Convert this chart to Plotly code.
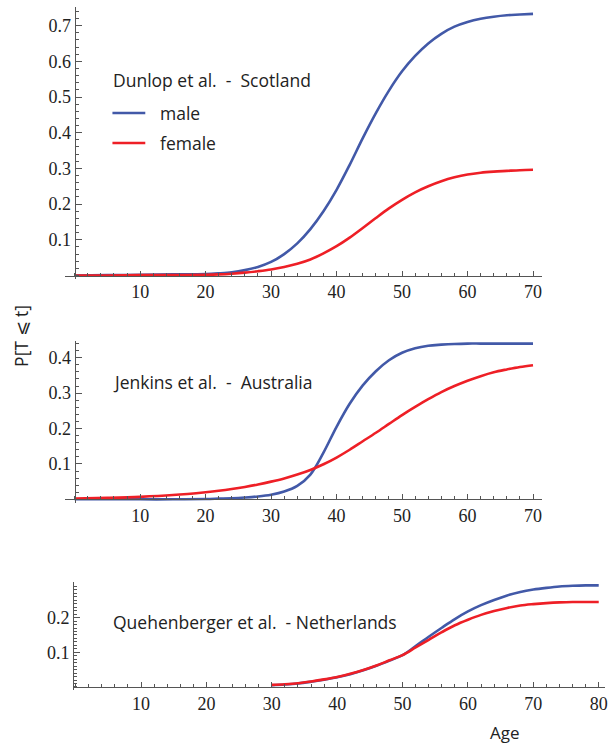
import plotly.graph_objects as go

# ---------------- data ----------------
ages_dunlop = [0, 5, 10, 15, 20, 22, 24, 26, 28, 30, 32, 34, 36, 38, 40, 42, 44, 46, 48, 50,
               52, 54, 56, 58, 60, 62, 64, 66, 68, 70]
male_dunlop = [0.000, 0.001, 0.002, 0.003, 0.004, 0.006, 0.009, 0.015, 0.024, 0.038, 0.060, 0.090,
               0.130, 0.180, 0.240, 0.310, 0.385, 0.455, 0.518, 0.572, 0.615, 0.650, 0.677, 0.697,
               0.710, 0.719, 0.725, 0.729, 0.731, 0.733]
female_dunlop = [0.000, 0.000, 0.001, 0.001, 0.002, 0.003, 0.005, 0.008, 0.012, 0.017, 0.024, 0.033,
                 0.045, 0.062, 0.082, 0.106, 0.133, 0.161, 0.188, 0.212, 0.233, 0.250, 0.264, 0.275,
                 0.283, 0.288, 0.291, 0.293, 0.295, 0.296]

ages_jenkins = [0, 5, 10, 15, 20, 22, 24, 26, 28, 30, 32, 34, 36, 38, 40, 42, 44, 46, 48, 50,
                52, 54, 56, 58, 60, 62, 64, 66, 68, 70]
male_jenkins = [0.000, 0.000, 0.000, 0.000, 0.001, 0.002, 0.003, 0.005, 0.008, 0.013, 0.022, 0.038,
                0.070, 0.132, 0.205, 0.270, 0.322, 0.362, 0.393, 0.414, 0.427, 0.434, 0.437, 0.439,
                0.440, 0.440, 0.440, 0.440, 0.440, 0.440]
female_jenkins = [0.002, 0.004, 0.007, 0.012, 0.020, 0.024, 0.029, 0.035, 0.042, 0.050, 0.059, 0.070,
                  0.083, 0.099, 0.118, 0.140, 0.164, 0.188, 0.213, 0.238, 0.261, 0.283, 0.303, 0.320,
                  0.335, 0.348, 0.359, 0.367, 0.374, 0.379]

ages_queh = [30, 32, 34, 36, 38, 40, 42, 44, 46, 48, 50, 52, 54, 56, 58, 60, 62, 64, 66, 68,
             70, 72, 74, 76, 78, 80]
male_queh = [0.005, 0.007, 0.010, 0.015, 0.021, 0.028, 0.037, 0.048, 0.061, 0.076, 0.092, 0.118,
             0.145, 0.171, 0.196, 0.218, 0.236, 0.251, 0.264, 0.274, 0.281, 0.286, 0.290, 0.292,
             0.293, 0.293]
female_queh = [0.006, 0.008, 0.011, 0.016, 0.022, 0.029, 0.038, 0.049, 0.062, 0.077, 0.092, 0.114,
               0.136, 0.158, 0.178, 0.194, 0.208, 0.219, 0.228, 0.235, 0.239, 0.242, 0.244, 0.245,
               0.245, 0.245]

x_ticks_70 = [10, 20, 30, 40, 50, 60, 70]
x_ticks_80 = [10, 20, 30, 40, 50, 60, 70, 80]
y_ticks_top = [0.1, 0.2, 0.3, 0.4, 0.5, 0.6, 0.7]
y_ticks_mid = [0.1, 0.2, 0.3, 0.4]
y_ticks_bot = [0.1, 0.2]

titles = ["Dunlop et al.  -  Scotland", "Jenkins et al.  -  Australia",
          "Quehenberger et al.  - Netherlands"]
series_names = ["male", "female"]

# ---------------- styling ----------------
W, H = 611, 747
BLUE = "#4259a8"
RED = "#ee1f26"
AX = "#555555"
TXT = "#222222"
SERIF = "Times New Roman"
SANS = "Open Sans"
FS = 17.5
TFS = 18


def px(x):
    return x / W


def py(y):
    return 1 - y / H


fig = go.Figure()

panels = [
    (ages_dunlop, male_dunlop, female_dunlop, "x", "y"),
    (ages_jenkins, male_jenkins, female_jenkins, "x2", "y2"),
    (ages_queh, male_queh, female_queh, "x3", "y3"),
]
for ages, m, f, xa, ya in panels:
    fig.add_trace(go.Scatter(x=ages, y=m, mode="lines", name=series_names[0], showlegend=False,
                             line=dict(color=BLUE, width=2.6, shape="spline"),
                             xaxis=xa, yaxis=ya))
    fig.add_trace(go.Scatter(x=ages, y=f, mode="lines", name=series_names[1], showlegend=False,
                             line=dict(color=RED, width=2.6, shape="spline"),
                             xaxis=xa, yaxis=ya))


def xcfg(dom, rng, ticks, ypix):
    return dict(domain=[px(dom[0]), px(dom[1])], range=rng, anchor="free", position=py(ypix),
                showline=True, linecolor=AX, linewidth=1, showgrid=False, zeroline=False,
                tickmode="array", tickvals=ticks, ticks="inside", ticklen=5, tickwidth=1,
                tickcolor=AX,
                minor=dict(tickmode="linear", tick0=0, dtick=2, ticks="inside", ticklen=3,
                           tickcolor=AX, tickwidth=1, showgrid=False),
                tickfont=dict(family=SERIF, size=TFS, color=TXT), fixedrange=True)


def ycfg(dom, rng, ticks, xpix, minor_dt):
    return dict(domain=[py(dom[1]), py(dom[0])], range=rng, anchor="free", position=px(xpix),
                showline=True, linecolor=AX, linewidth=1, showgrid=False, zeroline=False,
                tickmode="array", tickvals=ticks, ticks="inside", ticklen=6, tickwidth=1,
                tickcolor=AX,
                minor=dict(tickmode="linear", tick0=0, dtick=minor_dt, ticks="inside", ticklen=3,
                           tickcolor=AX, tickwidth=1, showgrid=False),
                tickfont=dict(family=SERIF, size=TFS, color=TXT), fixedrange=True)


fig.update_layout(
    width=W, height=H, margin=dict(l=0, r=0, t=0, b=0),
    paper_bgcolor="white", plot_bgcolor="white", showlegend=False,
    font=dict(family=SANS, color=TXT),
    xaxis=xcfg((65.8, 544.2), [-1.4, 71.3], x_ticks_70, 275.5),
    yaxis=ycfg((7.4, 278.7), [-0.009, 0.751], y_ticks_top, 75, 0.02),
    xaxis2=xcfg((65.8, 544.2), [-1.4, 71.3], x_ticks_70, 499.3),
    yaxis2=ycfg((341.1, 502.5), [-0.009, 0.447], y_ticks_mid, 75, 0.02),
    xaxis3=xcfg((73.4, 607.6), [-0.4, 80.9], x_ticks_80, 687.0),
    yaxis3=ycfg((582.3, 690.1), [-0.009, 0.302], y_ticks_bot, 73.4, 0.01),
)

# legend (drawn manually to match the Mathematica layout)
for name, color, ypix in [(series_names[0], BLUE, 113), (series_names[1], RED, 143)]:
    fig.add_shape(type="line", xref="paper", yref="paper", x0=px(113), x1=px(146),
                  y0=py(ypix), y1=py(ypix), line=dict(color=color, width=2.6))
    fig.add_annotation(text=name, xref="paper", yref="paper", x=px(159), y=py(ypix),
                       xanchor="left", yanchor="middle", showarrow=False,
                       font=dict(family=SANS, size=FS, color=TXT))

annots = [
    dict(text=titles[0], x=px(112), y=py(80)),
    dict(text=titles[1], x=px(112), y=py(382)),
    dict(text=titles[2], x=px(112), y=py(622)),
]
for a in annots:
    fig.add_annotation(xref="paper", yref="paper", xanchor="left", yanchor="middle",
                       showarrow=False, font=dict(family=SANS, size=FS, color=TXT), **a)

fig.add_annotation(text="Age", xref="paper", yref="paper", x=px(507), y=py(746),
                   xanchor="center", yanchor="bottom", showarrow=False,
                   font=dict(family=SANS, size=17, color=TXT))
fig.add_annotation(text="P[T ⩽ t]", xref="paper", yref="paper", x=px(21), y=py(336),
                   xanchor="center", yanchor="middle", showarrow=False, textangle=-90,
                   font=dict(family=SANS, size=FS, color=TXT))

fig.write_html("out.html")
